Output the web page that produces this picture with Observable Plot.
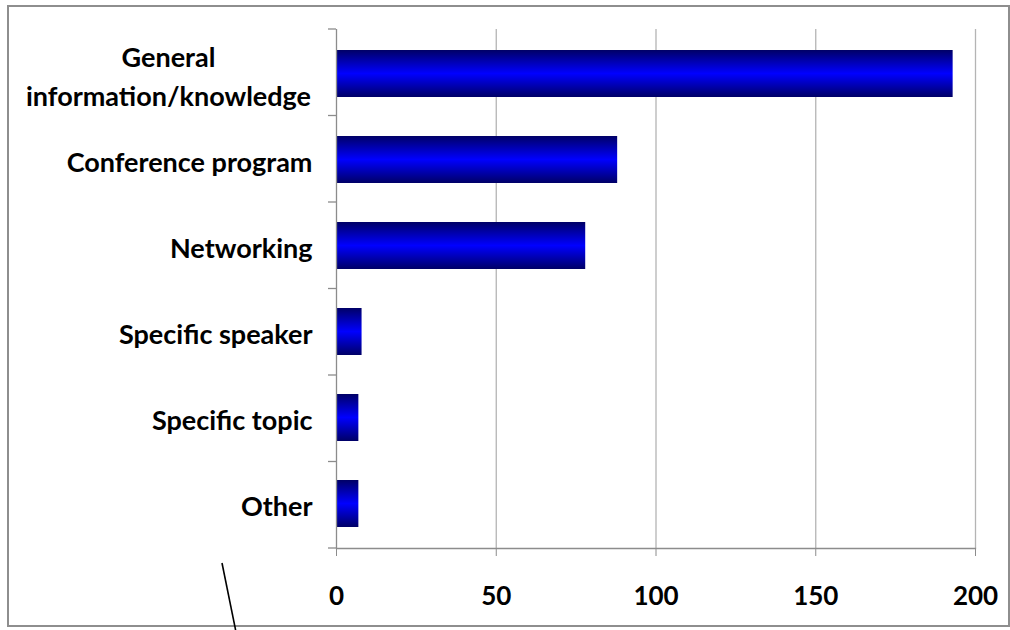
<!DOCTYPE html>
<html>
<head>
<meta charset="utf-8">
<script src="https://cdn.jsdelivr.net/npm/d3@7"></script>
<script src="https://cdn.jsdelivr.net/npm/@observablehq/plot@0.6"></script>
<style>
  html, body { margin: 0; padding: 0; background: #fff; }
  #wrap { position: relative; width: 1010px; height: 630px; overflow: hidden; }
  #frame { position: absolute; left: 7px; top: 5px; width: 999px; height: 618px; border: 2px solid #8e8e8e; pointer-events: none; }
  #chart { position: absolute; left: 0; top: 0; }
  #stray { position: absolute; left: 0; top: 0; pointer-events: none; }
</style>
</head>
<body>
<div id="wrap">
  <div id="chart"></div>
  <div id="frame"></div>
  <svg id="stray" width="1010" height="630"><line x1="222" y1="563" x2="236" y2="632" stroke="#000" stroke-width="1.6"/></svg>
</div>
<script>
const categories = ["General information/knowledge", "Conference program", "Networking", "Specific speaker", "Specific topic", "Other"];
const values = [193, 88, 78, 8, 7, 7];
const xTicks = [0, 50, 100, 150, 200];
const labelLines = {"General information/knowledge": "General\ninformation/knowledge"};

const data = categories.map((c, i) => ({category: c, value: values[i]}));

function separators(index, scales, vals, dims) {
  const g = document.createElementNS("http://www.w3.org/2000/svg", "g");
  const top = dims.marginTop, bottom = dims.height - dims.marginBottom;
  const step = (bottom - top) / categories.length;
  const x0 = scales.x(0);
  for (let k = 0; k <= categories.length; k++) {
    const l = document.createElementNS("http://www.w3.org/2000/svg", "line");
    const y = top + k * step;
    l.setAttribute("x1", x0 - 8); l.setAttribute("x2", x0);
    l.setAttribute("y1", y); l.setAttribute("y2", y);
    l.setAttribute("stroke", "#8c8c8c"); l.setAttribute("stroke-width", 1.3);
    g.appendChild(l);
  }
  return g;
}

const plot = Plot.plot({
  width: 1010,
  height: 630,
  marginLeft: 336,
  marginRight: 35,
  marginTop: 29,
  marginBottom: 82,
  style: {fontFamily: "Lato, 'Open Sans', sans-serif", fontWeight: "bold", fontSize: "27px", color: "#000", background: "transparent"},
  x: {domain: [0, 200], ticks: xTicks},
  y: {domain: categories, paddingInner: 0.455, paddingOuter: 0.2275},
  marks: [
    Plot.gridX(xTicks.slice(1), {stroke: "#b4b4b4", strokeOpacity: 1, strokeWidth: 1.3}),
    Plot.barX(data, {x: "value", y: "category", fill: "url(#barGrad)"}),
    Plot.ruleX([0], {stroke: "#8c8c8c", strokeWidth: 1.3}),
    Plot.frame({anchor: "bottom", stroke: "#8c8c8c", strokeWidth: 1.3}),
    Plot.axisX(xTicks, {tickSize: 8, tickPadding: 30, stroke: "#8c8c8c", label: null, fontSize: 26, fontWeight: "bold"}),
    Plot.axisY(categories.slice(1), {tickSize: 0, tickPadding: 24, dy: 3, label: null, fontSize: 27, fontWeight: "bold"}),
    Plot.axisY([categories[0]], {tickSize: 0, tickPadding: 168, textAnchor: "middle", lineHeight: 1.45, tickFormat: d => labelLines[d] || d, label: null, fontSize: 27, fontWeight: "bold"}),
    separators
  ]
});

const ns = "http://www.w3.org/2000/svg";
const defs = document.createElementNS(ns, "defs");
defs.innerHTML = '<linearGradient id="barGrad" x1="0" y1="0" x2="0" y2="1">' +
  '<stop offset="0" stop-color="#000066"/><stop offset="0.5" stop-color="#0000ff"/><stop offset="1" stop-color="#000066"/></linearGradient>';
plot.insertBefore(defs, plot.firstChild);
document.getElementById("chart").appendChild(plot);
</script>
</body>
</html>
